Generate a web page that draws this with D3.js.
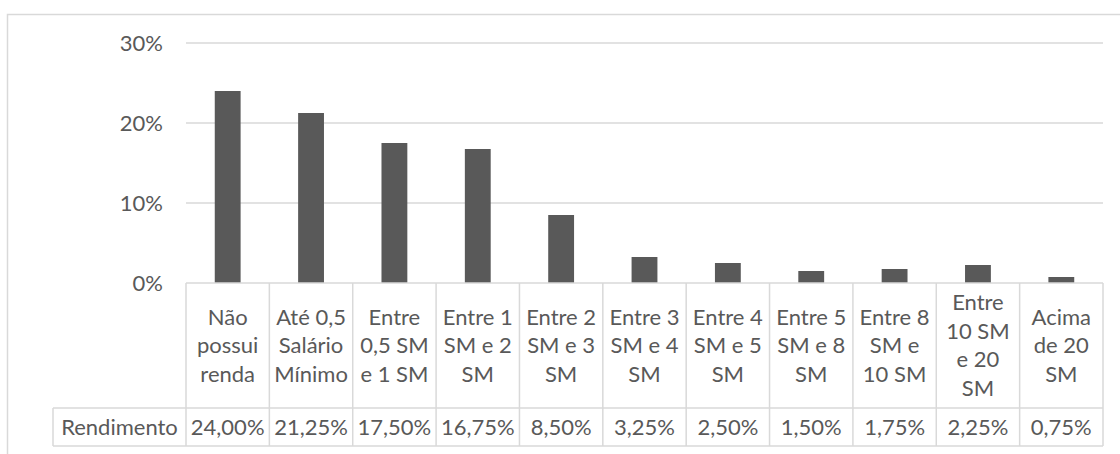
<!DOCTYPE html>
<html>
<head>
<meta charset="utf-8">
<script src="https://cdn.jsdelivr.net/npm/d3@7"></script>
<style>
  html, body { margin: 0; padding: 0; background: #fff; }
  svg { display: block; font-family: Lato, "Noto Sans", sans-serif; }
</style>
</head>
<body>
<svg id="chart" width="1120" height="454"></svg>
<script>
// data
const categories = [
  "Não possui renda", "Até 0,5 Salário Mínimo", "Entre 0,5 SM e 1 SM",
  "Entre 1 SM e 2 SM", "Entre 2 SM e 3 SM", "Entre 3 SM e 4 SM",
  "Entre 4 SM e 5 SM", "Entre 5 SM e 8 SM", "Entre 8 SM e 10 SM",
  "Entre 10 SM e 20 SM", "Acima de 20 SM"
];
// how the category text wraps inside each table cell
const categoryLines = [
  ["Não", "possui", "renda"], ["Até 0,5", "Salário", "Mínimo"], ["Entre", "0,5 SM", "e 1 SM"],
  ["Entre 1", "SM e 2", "SM"], ["Entre 2", "SM e 3", "SM"], ["Entre 3", "SM e 4", "SM"],
  ["Entre 4", "SM e 5", "SM"], ["Entre 5", "SM e 8", "SM"], ["Entre 8", "SM e", "10 SM"],
  ["Entre", "10 SM", "e 20", "SM"], ["Acima", "de 20", "SM"]
];
const seriesName = "Rendimento";
const rendimento = [24.00, 21.25, 17.50, 16.75, 8.50, 3.25, 2.50, 1.50, 1.75, 2.25, 0.75];
const yTicks = [0, 10, 20, 30];

const svg = d3.select("#chart");
const grid = "#d9d9d9";
const ink = "#595959";
const fontSize = 22;

const plotLeft = 186, plotRight = 1103;
const tableTop = 283, rowLine = 408, tableBottom = 446, labelLeft = 53;

const x = d3.scaleBand().domain(categories).range([plotLeft, plotRight]).paddingInner(0).paddingOuter(0);
const y = d3.scaleLinear().domain([0, 30]).range([tableTop, 43]);

// chart area border (runs off the right and bottom edges)
svg.append("rect")
  .attr("x", 7.5).attr("y", 14.5)
  .attr("width", 1200).attr("height", 500)
  .attr("fill", "none").attr("stroke", grid).attr("stroke-width", 1.5);

// gridlines
svg.append("g").selectAll("line")
  .data(yTicks.filter(d => d > 0))
  .enter().append("line")
  .attr("x1", plotLeft).attr("x2", plotRight)
  .attr("y1", d => y(d)).attr("y2", d => y(d))
  .attr("stroke", grid).attr("stroke-width", 1.5);

// y axis labels
svg.append("g").selectAll("text")
  .data(yTicks)
  .enter().append("text")
  .attr("x", 163).attr("y", d => y(d))
  .attr("dy", "0.35em")
  .attr("text-anchor", "end")
  .attr("fill", ink).attr("font-size", fontSize)
  .text(d => d + "%");

// bars
const barW = x.bandwidth() * 0.31;
svg.append("g").selectAll("rect")
  .data(rendimento)
  .enter().append("rect")
  .attr("x", (d, i) => x(categories[i]) + x.bandwidth() / 2 - barW / 2)
  .attr("y", d => y(d))
  .attr("width", barW)
  .attr("height", d => y(0) - y(d))
  .attr("fill", ink);

// data table
const table = svg.append("g").attr("stroke", grid).attr("stroke-width", 1.5);
table.append("line").attr("x1", plotLeft).attr("x2", plotRight).attr("y1", tableTop).attr("y2", tableTop);
table.append("line").attr("x1", labelLeft).attr("x2", plotRight).attr("y1", rowLine).attr("y2", rowLine);
table.append("line").attr("x1", labelLeft).attr("x2", plotRight).attr("y1", tableBottom).attr("y2", tableBottom);
table.append("line").attr("x1", labelLeft).attr("x2", labelLeft).attr("y1", rowLine).attr("y2", tableBottom);
table.selectAll(".col")
  .data(categories.map(c => x(c)).concat([plotRight]))
  .enter().append("line")
  .attr("x1", d => d).attr("x2", d => d)
  .attr("y1", tableTop).attr("y2", tableBottom);

// category text in the table
const lineH = 28.5;
const cellMid = (tableTop + rowLine) / 2;
const catText = svg.append("g").selectAll("text")
  .data(categoryLines)
  .enter().append("text")
  .attr("text-anchor", "middle")
  .attr("fill", ink).attr("font-size", fontSize);
catText.each(function(lines, i) {
  const cx = x(categories[i]) + x.bandwidth() / 2;
  const top = cellMid - (lines.length - 1) * lineH / 2;
  d3.select(this).selectAll("tspan")
    .data(lines)
    .enter().append("tspan")
    .attr("x", cx)
    .attr("y", (d, j) => top + j * lineH)
    .attr("dy", "0.35em")
    .text(d => d);
});

// values row
const fmt = v => v.toFixed(2).replace(".", ",") + "%";
const rowMid = (rowLine + tableBottom) / 2;
svg.append("g").selectAll("text")
  .data(rendimento)
  .enter().append("text")
  .attr("x", (d, i) => x(categories[i]) + x.bandwidth() / 2)
  .attr("y", rowMid).attr("dy", "0.35em")
  .attr("text-anchor", "middle")
  .attr("fill", ink).attr("font-size", fontSize)
  .text(fmt);

svg.append("text")
  .attr("x", (labelLeft + plotLeft) / 2).attr("y", rowMid).attr("dy", "0.35em")
  .attr("text-anchor", "middle")
  .attr("fill", ink).attr("font-size", fontSize)
  .text(seriesName);
</script>
</body>
</html>
